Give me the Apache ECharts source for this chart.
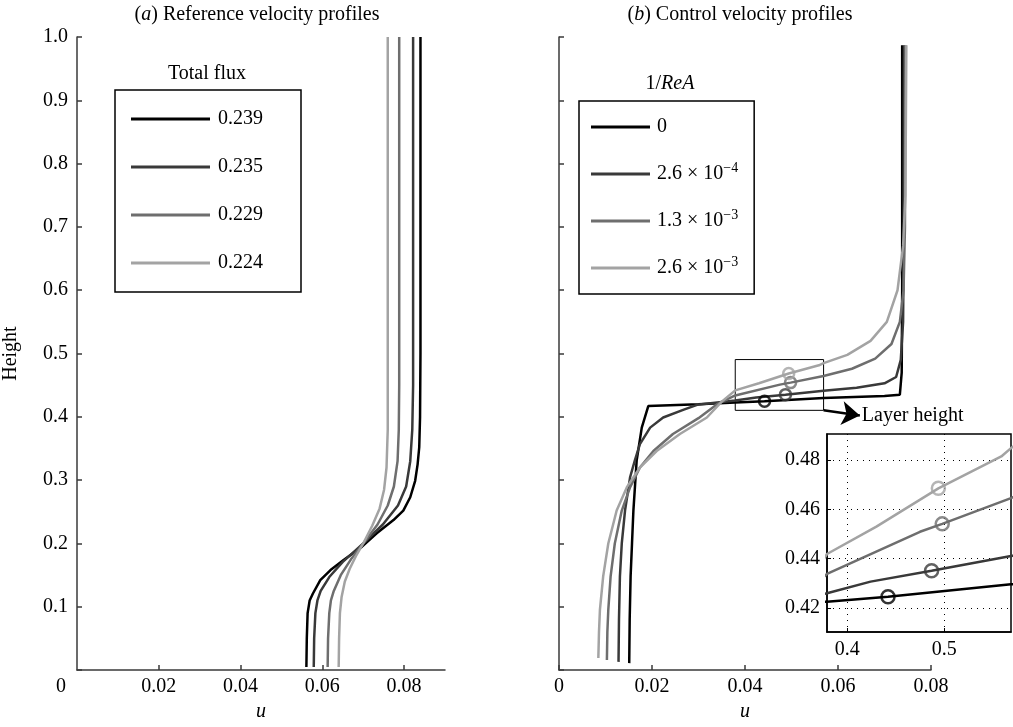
<!DOCTYPE html>
<html><head><meta charset="utf-8">
<script src="https://cdn.jsdelivr.net/npm/echarts@6/dist/echarts.min.js"></script>
<style>html,body{margin:0;padding:0;background:#fff}#c{width:1013px;height:727px}</style>
</head><body><div id="c"></div>
<script>
const FONT = '"Liberation Serif", "DejaVu Serif", serif';

// ---------- (a) Reference velocity profiles: [u, height] ----------
const refNames = ['0.239', '0.235', '0.229', '0.224'];
const ref0239 = [[0.0561,0.005],[0.0562,0.05],[0.0564,0.09],[0.0569,0.11],[0.0577,0.121],[0.0595,0.142],[0.0620,0.158],[0.0652,0.174],[0.0697,0.195],[0.0733,0.216],[0.0774,0.237],[0.0798,0.252],[0.0815,0.273],[0.0827,0.299],[0.0833,0.325],[0.0837,0.352],[0.0839,0.40],[0.0840,0.5],[0.0840,1.0]];
const ref0235 = [[0.0579,0.005],[0.0580,0.05],[0.0583,0.09],[0.0588,0.11],[0.0596,0.125],[0.0617,0.147],[0.0650,0.171],[0.0700,0.200],[0.0748,0.230],[0.0785,0.260],[0.0805,0.290],[0.0815,0.33],[0.0820,0.38],[0.0822,0.45],[0.0822,1.0]];
const ref0229 = [[0.0613,0.005],[0.0614,0.05],[0.0617,0.09],[0.0621,0.11],[0.0628,0.125],[0.0645,0.150],[0.0670,0.175],[0.0700,0.200],[0.0735,0.230],[0.0760,0.260],[0.0775,0.290],[0.0784,0.33],[0.0787,0.38],[0.0788,0.45],[0.0788,1.0]];
const ref0224 = [[0.0640,0.005],[0.0641,0.05],[0.0643,0.09],[0.0647,0.115],[0.0655,0.14],[0.0667,0.160],[0.0682,0.180],[0.0700,0.200],[0.0722,0.228],[0.0740,0.255],[0.0751,0.285],[0.0757,0.32],[0.0760,0.38],[0.0760,0.45],[0.0760,1.0]];

// ---------- (b) Control velocity profiles: [u, height] ----------
const ctlNames = ['0', '2.6e-4', '1.3e-3', '2.6e-3'];
const ctl0 = [[0.0151,0.011],[0.0152,0.08],[0.0154,0.148],[0.0157,0.2],[0.0160,0.252],[0.0167,0.331],[0.0178,0.383],[0.0192,0.417],[0.0300,0.420],[0.0379,0.4226],[0.0442,0.4246],[0.0569,0.4296],[0.0700,0.433],[0.0733,0.435],[0.0737,0.47],[0.0738,0.6],[0.0738,0.987]];
const ctl26e4 = [[0.0128,0.013],[0.0129,0.08],[0.0131,0.148],[0.0135,0.2],[0.0142,0.252],[0.0153,0.305],[0.0163,0.331],[0.0174,0.357],[0.0196,0.383],[0.0224,0.399],[0.0267,0.411],[0.0297,0.419],[0.0379,0.426],[0.0424,0.4307],[0.0487,0.4351],[0.0569,0.4411],[0.0640,0.446],[0.0700,0.453],[0.0725,0.463],[0.0735,0.49],[0.0740,0.55],[0.0741,0.65],[0.0742,0.987]];
const ctl13e3 = [[0.0103,0.016],[0.0104,0.06],[0.0106,0.095],[0.0111,0.148],[0.0120,0.2],[0.0135,0.252],[0.0153,0.289],[0.0174,0.320],[0.0203,0.346],[0.0245,0.373],[0.0300,0.398],[0.0340,0.420],[0.0379,0.4338],[0.0475,0.4509],[0.0498,0.4541],[0.0569,0.4645],[0.0630,0.476],[0.0680,0.492],[0.0715,0.515],[0.0733,0.55],[0.0741,0.6],[0.0744,0.7],[0.0745,0.987]];
const ctl26e3 = [[0.00846,0.019],[0.0086,0.06],[0.0088,0.095],[0.0095,0.148],[0.0106,0.2],[0.0124,0.252],[0.0146,0.289],[0.0174,0.320],[0.0210,0.346],[0.0260,0.373],[0.0318,0.399],[0.0350,0.424],[0.0379,0.4419],[0.0430,0.453],[0.0494,0.4685],[0.0559,0.4814],[0.0569,0.4848],[0.0620,0.498],[0.0670,0.52],[0.0705,0.55],[0.0728,0.6],[0.0740,0.67],[0.0745,0.75],[0.0747,0.987]];

// layer-height markers [u, height]
const layer0 = [[0.0442, 0.4246]];
const layer26e4 = [[0.0487, 0.4351]];
const layer13e3 = [[0.0498, 0.4541]];
const layer26e3 = [[0.0494, 0.4685]];

// zoom window (inset range) and arrow
const zoomBox = [[0.0379, 0.4103], [0.0569, 0.4905]];
const arrowEnd = [0.0647, 0.402];

// tick values
const refXTicks = [0, 0.02, 0.04, 0.06, 0.08];
const ctlXTicks = [0, 0.02, 0.04, 0.06, 0.08];
const insetXTicks = [0.04, 0.05];
const insetYTicks = [0.42, 0.44, 0.46, 0.48];

const grays = ['#000000', '#393939', '#6e6e6e', '#a3a3a3'];

const ctlLabels = {
  '0': '{n|0}',
  '2.6e-4': '{n|2.6 × 10}{s|−4}',
  '1.3e-3': '{n|1.3 × 10}{s|−3}',
  '2.6e-3': '{n|2.6 × 10}{s|−3}'
};
const richSup = {
  n: {fontSize: 20, fontFamily: FONT, color: '#000', verticalAlign: 'bottom', lineHeight: 20},
  s: {fontSize: 14, fontFamily: FONT, color: '#000', verticalAlign: 'bottom', lineHeight: 20, padding: [0, 0, 9, 0]}
};

const axisLineStyle = {color: '#3a3a3a', width: 1.5};
const labelBase = {fontSize: 20, fontFamily: FONT, color: '#000'};

function lineSeries(name, data, color, xi) {
  return {name, type: 'line', data, xAxisIndex: xi, yAxisIndex: xi, showSymbol: false, symbol: 'none',
    lineStyle: {color, width: 2.5}, itemStyle: {color}, clip: true, animation: false, z: 3};
}
function circleSeries(name, data, color, xi, size) {
  return {name, type: 'scatter', data, xAxisIndex: xi, yAxisIndex: xi, symbol: 'circle', symbolSize: size,
    itemStyle: {color: 'rgba(0,0,0,0)', borderColor: color, borderWidth: 2.5}, animation: false, z: 4, silent: true};
}

const refData = [ref0239, ref0235, ref0229, ref0224];
const ctlData = [ctl0, ctl26e4, ctl13e3, ctl26e3];
const layerData = [layer0, layer26e4, layer13e3, layer26e3];

const series = [];
refNames.forEach((n, i) => series.push(lineSeries(n, refData[i], grays[i], 0)));
ctlNames.forEach((n, i) => series.push(lineSeries(n, ctlData[i], grays[i], 1)));
ctlNames.forEach((n, i) => series.push(circleSeries('m' + i, layerData[i], grays[i], 1, 11)));
ctlNames.forEach((n, i) => series.push(lineSeries(n, ctlData[i], grays[i], 2)));
ctlNames.forEach((n, i) => series.push(circleSeries('mi' + i, layerData[i], grays[i], 2, 13)));
// zoom window rectangle + arrow
series.push({
  name: 'zoomwin', type: 'line', data: [], xAxisIndex: 1, yAxisIndex: 1, animation: false, silent: true,
  markArea: {silent: true, itemStyle: {color: 'rgba(0,0,0,0)', borderColor: '#000', borderWidth: 1},
    data: [[{coord: zoomBox[0]}, {coord: zoomBox[1]}]]},
  markLine: {silent: true, symbol: ['none', 'arrow'], symbolSize: 18, animation: false,
    lineStyle: {color: '#000', width: 2.5, type: 'solid'},
    itemStyle: {color: '#000'},
    label: {show: true, position: 'end', formatter: 'Layer height', fontSize: 20, fontFamily: FONT, color: '#000', distance: 2},
    data: [[{coord: [zoomBox[1][0], zoomBox[0][1]]}, {coord: arrowEnd}]]}
});

const option = {
  backgroundColor: '#fff',
  animation: false,
  grid: [
    {left: 76, top: 37, width: 369, height: 637},
    {left: 559, top: 37, width: 372, height: 637},
    {left: 827, top: 434, width: 184, height: 198, show: true, borderColor: '#000', borderWidth: 1.5, backgroundColor: '#fff'}
  ],
  xAxis: [
    {gridIndex: 0, type: 'value', min: 0, max: 0.09,
      axisLine: {show: true, onZero: false, lineStyle: axisLineStyle},
      axisTick: {show: true, inside: true, length: 5, lineStyle: axisLineStyle, customValues: refXTicks.slice(1)},
      axisLabel: Object.assign({}, labelBase, {margin: 7, customValues: refXTicks,
        formatter: v => v === 0 ? '{z|0}' : v.toFixed(2),
        rich: {z: {fontSize: 20, fontFamily: FONT, color: '#000', padding: [0, 32, 0, 0]}}}),
      splitLine: {show: false},
      name: 'u', nameLocation: 'middle', nameGap: 30,
      nameTextStyle: {fontSize: 20, fontFamily: FONT, fontStyle: 'italic', color: '#000'}},
    {gridIndex: 1, type: 'value', min: 0, max: 0.08, interval: 0.02,
      axisLine: {show: true, onZero: false, lineStyle: axisLineStyle},
      axisTick: {show: true, inside: true, length: 5, lineStyle: axisLineStyle},
      axisLabel: Object.assign({}, labelBase, {margin: 7, customValues: ctlXTicks,
        formatter: v => v === 0 ? '0' : v.toFixed(2)}),
      splitLine: {show: false},
      name: 'u', nameLocation: 'middle', nameGap: 30,
      nameTextStyle: {fontSize: 20, fontFamily: FONT, fontStyle: 'italic', color: '#000'}},
    {gridIndex: 2, type: 'value', min: zoomBox[0][0], max: zoomBox[1][0],
      axisLine: {show: true, onZero: false, lineStyle: {color: '#000', width: 1.5}},
      axisTick: {show: true, inside: true, length: 4, customValues: insetXTicks, lineStyle: {color: '#000'}},
      axisLabel: Object.assign({}, labelBase, {margin: 8, customValues: insetXTicks,
        formatter: v => (v * 10).toFixed(1)}),
      splitLine: {show: true, lineStyle: {color: '#000', width: 1, type: [1, 5]}}}
  ],
  yAxis: [
    {gridIndex: 0, type: 'value', min: 0, max: 1, interval: 0.1,
      axisLine: {show: true, onZero: false, lineStyle: axisLineStyle},
      axisTick: {show: true, inside: true, length: 5, lineStyle: axisLineStyle},
      axisLabel: Object.assign({}, labelBase, {margin: 9, formatter: v => v === 0 ? '' : v.toFixed(1)}),
      splitLine: {show: false},
      name: 'Height', nameLocation: 'middle', nameGap: 56,
      nameTextStyle: {fontSize: 20, fontFamily: FONT, color: '#000'}},
    {gridIndex: 1, type: 'value', min: 0, max: 1, interval: 0.1,
      axisLine: {show: true, onZero: false, lineStyle: axisLineStyle},
      axisTick: {show: true, inside: true, length: 5, lineStyle: axisLineStyle},
      axisLabel: {show: false},
      splitLine: {show: false}},
    {gridIndex: 2, type: 'value', min: zoomBox[0][1], max: zoomBox[1][1],
      axisLine: {show: true, onZero: false, lineStyle: {color: '#000', width: 1.5}},
      axisTick: {show: true, inside: true, length: 4, customValues: insetYTicks, lineStyle: {color: '#000'}},
      axisLabel: Object.assign({}, labelBase, {margin: 7, customValues: insetYTicks, formatter: v => v.toFixed(2)}),
      splitLine: {show: true, lineStyle: {color: '#000', width: 1, type: [1, 5]}}}
  ],
  legend: [
    {data: refNames, orient: 'vertical', left: 115, top: 90, icon: 'rect',
      padding: [19, 38, 19, 16], itemGap: 28, itemWidth: 79, itemHeight: 3,
      borderColor: '#000', borderWidth: 1.5, backgroundColor: '#fff',
      textStyle: {fontSize: 20, fontFamily: FONT, color: '#000', lineHeight: 20, padding: [0, 0, 0, 3]},
      selectedMode: false},
    {data: ctlNames, orient: 'vertical', left: 579, top: 101, icon: 'rect',
      padding: [16, 16, 16, 12], itemGap: 24, itemWidth: 59, itemHeight: 3,
      borderColor: '#000', borderWidth: 1.5, backgroundColor: '#fff',
      formatter: name => ctlLabels[name],
      textStyle: {fontSize: 20, fontFamily: FONT, color: '#000', lineHeight: 20, padding: [0, 0, 0, 2], rich: richSup},
      selectedMode: false}
  ],
  graphic: [
    {type: 'text', x: 257, y: 15, z: 20, style: {
      text: '{n|(}{i|a}{n|) Reference velocity profiles}',
      textAlign: 'center', textVerticalAlign: 'middle', align: 'center', verticalAlign: 'middle',
      rich: {n: {fontSize: 20, fontFamily: FONT, fill: '#000', color: '#000'}, i: {fontSize: 20, fontFamily: FONT, fontStyle: 'italic', fill: '#000', color: '#000'}}}},
    {type: 'text', x: 740, y: 15, z: 20, style: {
      text: '{n|(}{i|b}{n|) Control velocity profiles}',
      textAlign: 'center', textVerticalAlign: 'middle', align: 'center', verticalAlign: 'middle',
      rich: {n: {fontSize: 20, fontFamily: FONT, fill: '#000', color: '#000'}, i: {fontSize: 20, fontFamily: FONT, fontStyle: 'italic', fill: '#000', color: '#000'}}}},
    {type: 'text', x: 207, y: 74, z: 20, style: {
      text: 'Total flux', font: '20px ' + FONT, fill: '#000',
      textAlign: 'center', textVerticalAlign: 'middle', align: 'center', verticalAlign: 'middle'}},
    {type: 'text', x: 670, y: 84, z: 20, style: {
      text: '{n|1/}{i|ReA}',
      textAlign: 'center', textVerticalAlign: 'middle', align: 'center', verticalAlign: 'middle',
      rich: {n: {fontSize: 20, fontFamily: FONT, fill: '#000', color: '#000'}, i: {fontSize: 20, fontFamily: FONT, fontStyle: 'italic', fill: '#000', color: '#000'}}}}
  ],
  series
};

const chart = echarts.init(document.getElementById('c'), null, {renderer: 'canvas'});
chart.setOption(option);
</script>
</body></html>
